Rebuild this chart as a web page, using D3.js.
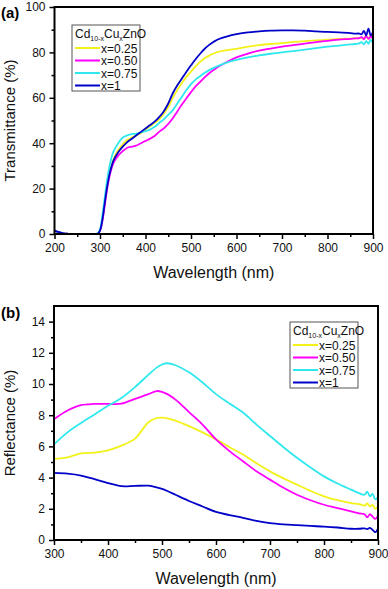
<!DOCTYPE html>
<html>
<head>
<meta charset="utf-8">
<script src="https://cdn.jsdelivr.net/npm/d3@7"></script>
<style>
	body { margin: 0; background: #fff; }
	svg { display: block; font-family: "Liberation Sans", Arial, sans-serif; }
</style>
</head>
<body>
<svg id="chart" width="388" height="589"></svg>
<script>
'use strict';

// legend / series names
var seriesNames = ['x=0.25', 'x=0.50', 'x=0.75', 'x=1'];
var seriesColors = ['#f2f21a', '#ff00ff', '#2ee8ee', '#0000c8'];

// (a) transmittance
var wavelengthsA = [200, 210, 220, 230, 240, 260, 280, 290, 295, 300, 305, 310, 315, 320, 325, 330, 340, 350, 360, 370,
	380, 390, 400, 410, 420, 430, 440, 450, 460, 470, 480, 490, 500, 510, 520, 530, 540, 550, 560, 580,
	600, 625, 650, 675, 700, 725, 750, 775, 800, 825, 850, 860, 870, 875, 880, 885, 890, 895, 900];
var transX025 = [1.5, 0.8, 0.3, 0.1, 0, 0, 0, 0, 0.1, 1.5, 6, 13, 20, 26, 30, 33, 37, 39.5, 41.5, 42.5,
	43.5, 44.5, 46, 47.5, 49, 50.5, 53, 56, 60, 63.5, 66.5, 69.2, 71.5, 73.8, 75.8, 77.4, 78.6, 79.5, 80.2, 81,
	81.6, 82.5, 83.2, 83.7, 84.1, 84.6, 85, 85.3, 85.6, 85.9, 86.1, 86.2, 86.3, 86.5, 86, 87, 86, 87.5, 86.5];
var transX050 = [1.5, 0.8, 0.3, 0.1, 0, 0, 0, 0, 0.1, 1.5, 5.5, 12, 19, 24.5, 28.5, 31.5, 34.5, 36.5, 38, 38.5,
	39, 40, 41, 42, 43.2, 45, 46.5, 48.5, 51, 54, 57, 59.8, 62.5, 65, 67, 69, 70.8, 72.3, 73.7, 75.9,
	77.8, 79.5, 80.8, 81.7, 82.5, 83.2, 83.9, 84.5, 85.1, 85.6, 86, 86.2, 86.3, 86.7, 85.8, 87.2, 86, 87, 86];
var transX075 = [1.5, 0.8, 0.3, 0.1, 0, 0, 0, 0, 0.3, 2, 8, 15.5, 23, 29, 33.5, 36.5, 40, 42.5, 43.5, 44,
	44.2, 44.8, 45.3, 46, 47.2, 48.9, 50.5, 52.5, 54.6, 57.5, 60.5, 63.4, 66, 68, 69.5, 71, 72.2, 73.2, 74.1, 75.6,
	76.7, 77.8, 78.7, 79.4, 80, 80.6, 81.2, 81.9, 82.5, 83, 83.5, 83.7, 84, 84.5, 83.5, 85, 83.8, 85.5, 84];
var transX1 = [1.5, 0.8, 0.3, 0.1, 0, 0, 0, 0, 0.1, 1.5, 6, 13, 20, 25.5, 29.5, 32.5, 36, 38.5, 40.5, 42,
	43.5, 45, 46.5, 48, 49.5, 51.5, 54, 57.5, 62, 65.5, 68.5, 71.5, 74.3, 77, 79.4, 81.6, 83.3, 84.7, 85.8, 87.1,
	88, 88.8, 89.3, 89.6, 89.7, 89.7, 89.6, 89.3, 89, 88.8, 88.5, 88.3, 88.3, 88, 89.5, 87.5, 90.5, 87.5, 89];

// (b) reflectance
var wavelengthsB = [300, 325, 350, 375, 400, 425, 450, 475, 490, 500, 510, 525, 550, 575, 600, 625, 650, 675, 700, 725, 750, 775,
	800, 825, 850, 865, 875, 880, 885, 890, 895, 900];
var reflX025 = [5.2, 5.3, 5.55, 5.6, 5.75, 6.05, 6.5, 7.55, 7.82, 7.85, 7.8, 7.65, 7.3, 6.9, 6.45, 5.95, 5.48, 4.92, 4.4, 3.95, 3.55, 3.15,
	2.8, 2.55, 2.37, 2.3, 2.2, 2.35, 2.15, 2.25, 2.0, 2.15];
var reflX050 = [7.74, 8.3, 8.65, 8.72, 8.72, 8.74, 9.05, 9.35, 9.55, 9.5, 9.35, 9.0, 8.2, 7.4, 6.45, 5.7, 5.05, 4.4, 3.87, 3.35, 2.9, 2.55,
	2.26, 2.05, 1.83, 1.7, 1.65, 1.45, 1.65, 1.5, 1.35, 1.55];
var reflX075 = [6.13, 6.9, 7.5, 8.05, 8.6, 9.1, 9.8, 10.6, 11.05, 11.25, 11.33, 11.2, 10.75, 10.1, 9.35, 8.75, 8.17, 7.4, 6.67, 5.95, 5.27, 4.65,
	4.08, 3.62, 3.23, 3.0, 2.9, 3.1, 2.8, 2.95, 2.6, 2.75];
var reflX1 = [4.3, 4.25, 4.13, 3.9, 3.65, 3.45, 3.47, 3.48, 3.38, 3.28, 3.14, 2.9, 2.5, 2.15, 1.8, 1.6, 1.42, 1.22, 1.08, 1.0, 0.95, 0.9,
	0.86, 0.8, 0.72, 0.72, 0.75, 0.7, 0.78, 0.65, 0.5, 0.75];

var svg = d3.select('#chart');

function drawPanel(opts) {
	var x = d3.scaleLinear().domain(opts.xDomain).range([opts.left, opts.right]);
	var y = d3.scaleLinear().domain(opts.yDomain).range([opts.bottom, opts.top]);
	var g = svg.append('g');

	// minor ticks
	g.append('g')
		.attr('transform', 'translate(0,' + opts.bottom + ')')
		.call(d3.axisBottom(x).tickValues(opts.xMinor).tickSize(3).tickFormat(''))
		.call(function(s) { s.select('.domain').remove(); });
	g.append('g')
		.attr('transform', 'translate(' + opts.left + ',0)')
		.call(d3.axisLeft(y).tickValues(opts.yMinor).tickSize(3).tickFormat(''))
		.call(function(s) { s.select('.domain').remove(); });

	// major ticks
	var xAxis = g.append('g')
		.attr('transform', 'translate(0,' + opts.bottom + ')')
		.call(d3.axisBottom(x).tickValues(opts.xTicks).tickSize(5).tickPadding(4).tickFormat(d3.format('d')));
	var yAxis = g.append('g')
		.attr('transform', 'translate(' + opts.left + ',0)')
		.call(d3.axisLeft(y).tickValues(opts.yTicks).tickSize(5).tickPadding(4).tickFormat(d3.format('d')));
	[xAxis, yAxis].forEach(function(a) {
		a.select('.domain').remove();
		a.selectAll('text').attr('font-size', 12).attr('fill', '#111').attr('font-family', '"Liberation Sans", Arial, sans-serif');
	});
	g.selectAll('.tick line').attr('stroke', '#000').attr('stroke-width', 1.5);

	// series
	var line = d3.line()
		.x(function(d) { return x(d[0]); })
		.y(function(d) { return y(d[1]); })
		.curve(d3.curveCatmullRom.alpha(0.5));
	opts.series.forEach(function(vals, i) {
		g.append('path')
			.datum(opts.wavelengths.map(function(w, k) { return [w, vals[k]]; }))
			.attr('d', line)
			.attr('fill', 'none')
			.attr('stroke', seriesColors[i])
			.attr('stroke-width', 1.8)
			.attr('stroke-linejoin', 'round');
	});

	// frame
	g.append('rect')
		.attr('x', opts.left).attr('y', opts.top)
		.attr('width', opts.right - opts.left).attr('height', opts.bottom - opts.top)
		.attr('fill', 'none').attr('stroke', '#000').attr('stroke-width', 2);

	// titles
	g.append('text')
		.attr('x', (opts.left + opts.right) / 2).attr('y', opts.xTitleY)
		.attr('text-anchor', 'middle').attr('font-size', 16).attr('fill', '#111')
		.text('Wavelength (nm)');
	g.append('text')
		.attr('transform', 'translate(' + opts.yTitleX + ',' + (opts.top + opts.bottom) / 2 + ') rotate(-90)')
		.attr('text-anchor', 'middle').attr('font-size', 15).attr('fill', '#111')
		.text(opts.yTitle);
	g.append('text')
		.attr('x', 1).attr('y', opts.labelY)
		.attr('font-size', 15).attr('font-weight', 'bold').attr('fill', '#000')
		.text(opts.label);

	// legend
	var lg = g.append('g').attr('transform', 'translate(' + opts.legendX + ',' + opts.legendY + ')');
	lg.append('rect')
		.attr('width', 68).attr('height', 66)
		.attr('fill', '#fff').attr('stroke', '#555').attr('stroke-width', 1);
	var title = lg.append('text').attr('x', 3).attr('y', 13).attr('font-size', 12).attr('fill', '#111');
	title.append('tspan').text('Cd');
	title.append('tspan').attr('font-size', 7).attr('dy', 3).text('10-x');
	title.append('tspan').attr('dy', -3).text('Cu');
	title.append('tspan').attr('font-size', 7).attr('dy', 3).text('x');
	title.append('tspan').attr('dy', -3).text('ZnO');
	seriesNames.forEach(function(name, i) {
		var yy = 23 + i * 12.5;
		lg.append('line')
			.attr('x1', 3).attr('x2', 28).attr('y1', yy).attr('y2', yy)
			.attr('stroke', seriesColors[i]).attr('stroke-width', 2);
		lg.append('text')
			.attr('x', 29).attr('y', yy + 4.5).attr('font-size', 12).attr('fill', '#111')
			.text(name);
	});
}

drawPanel({
	xDomain: [200, 900], yDomain: [0, 100],
	left: 54.5, right: 373, top: 7, bottom: 234,
	xTicks: d3.range(200, 901, 100), xMinor: d3.range(250, 900, 100),
	yTicks: d3.range(0, 101, 20), yMinor: d3.range(10, 100, 20),
	wavelengths: wavelengthsA,
	series: [transX025, transX050, transX075, transX1],
	xTitleY: 278, yTitleX: 15, yTitle: 'Transmittance (%)',
	label: '(a)', labelY: 18,
	legendX: 72, legendY: 25
});

drawPanel({
	xDomain: [300, 900], yDomain: [0, 15],
	left: 54, right: 378, top: 306, bottom: 540,
	xTicks: d3.range(300, 901, 100), xMinor: d3.range(350, 900, 100),
	yTicks: d3.range(0, 15, 2), yMinor: d3.range(1, 15, 2),
	wavelengths: wavelengthsB,
	series: [reflX025, reflX050, reflX075, reflX1],
	xTitleY: 584, yTitleX: 15, yTitle: 'Reflectance (%)',
	label: '(b)', labelY: 318,
	legendX: 290, legendY: 322
});
</script>
</body>
</html>
